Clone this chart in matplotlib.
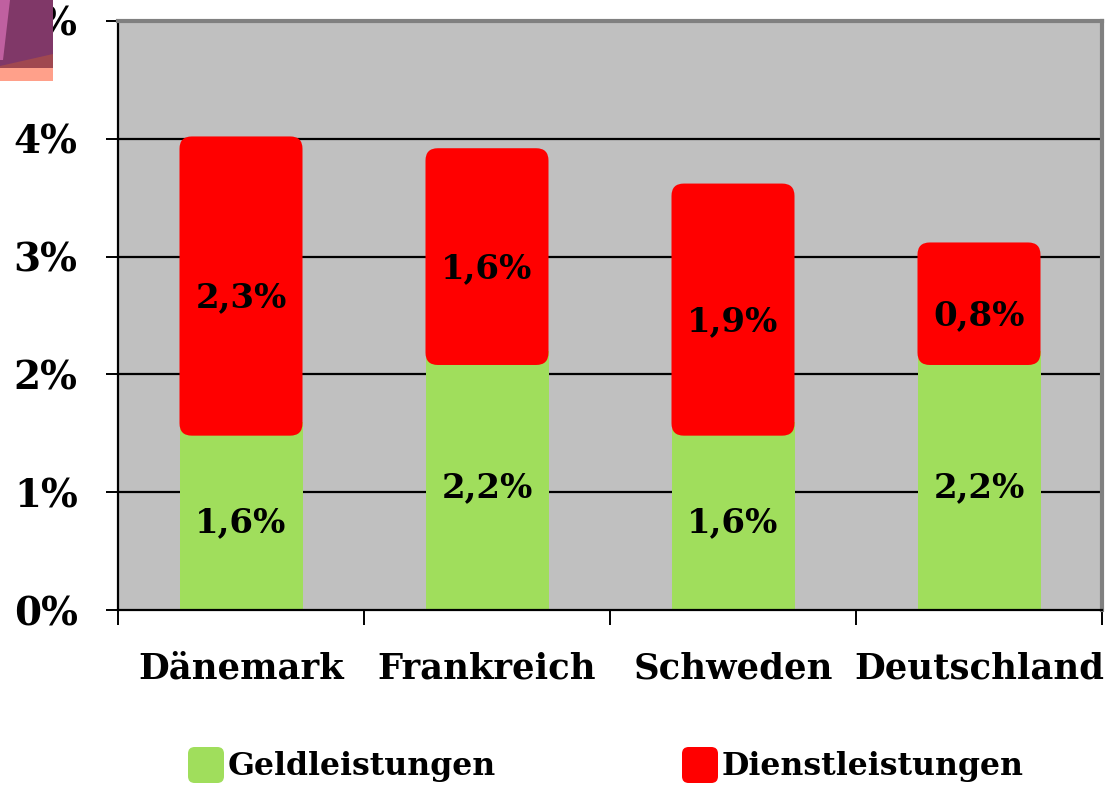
import matplotlib
matplotlib.use("Agg")
import matplotlib.pyplot as plt
from matplotlib.patches import FancyBboxPatch, Polygon, Rectangle
from matplotlib.ticker import FixedLocator, FuncFormatter
import numpy as np

categories = ["Dänemark", "Frankreich", "Schweden", "Deutschland"]
geld = [1.6, 2.2, 1.6, 2.2]
dienst = [2.3, 1.6, 1.9, 0.8]
geld_labels = ["1,6%", "2,2%", "1,6%", "2,2%"]
dienst_labels = ["2,3%", "1,6%", "1,9%", "0,8%"]
series_names = ["Geldleistungen", "Dienstleistungen"]
y_ticks = [0, 1, 2, 3, 4, 5]

GREEN = "#A0DE5C"
RED = "#FF0000"
FONT = "DejaVu Serif"

W, H = 1112, 789
fig = plt.figure(figsize=(W / 100, H / 100), dpi=100)
ax = fig.add_axes([118 / W, 1 - 610 / H, (1102 - 118) / W, (610 - 21) / H])
ax.set_facecolor("#C0C0C0")
ax.set_xlim(-0.5, len(categories) - 0.5)
ax.set_ylim(0, 5)

# gridlines
for t in y_ticks[1:-1]:
    ax.axhline(t, color="black", lw=1.6, zorder=1)

x = np.arange(len(categories))
width = 0.5
ax.bar(x, geld, width=width, color=GREEN, zorder=2)

# rounded red boxes (scaled to axes aspect)
px_per_x = (1102 - 118) / len(categories)
px_per_y = (610 - 21) / 5
aspect = px_per_x / px_per_y
pad = 0.12
for xi, g, d, lab_g, lab_d in zip(x, geld, dienst, geld_labels, dienst_labels):
    box = FancyBboxPatch((xi - width / 2, g - pad), width, d + 2 * pad,
                         boxstyle="round,pad=0,rounding_size=0.05",
                         mutation_aspect=aspect, facecolor=RED, edgecolor="none", zorder=3)
    ax.add_patch(box)
    ax.text(xi, g / 2 - 0.06, lab_g, ha="center", va="center", fontsize=24.5,
            fontweight="bold", family=FONT, zorder=4)
    ax.text(xi, g + d / 2 - 0.1, lab_d, ha="center", va="center", fontsize=24.5,
            fontweight="bold", family=FONT, zorder=4)

# spines
ax.spines["left"].set_color("black")
ax.spines["left"].set_linewidth(1.6)
ax.spines["bottom"].set_color("black")
ax.spines["bottom"].set_linewidth(1.6)
for s in ["top", "right"]:
    ax.spines[s].set_color("#808080")
    ax.spines[s].set_linewidth(3)

ax.set_yticks(y_ticks)
ax.yaxis.set_major_formatter(FuncFormatter(lambda v, p: f"{int(v)}%"))
ax.tick_params(axis="y", length=9, width=1.4, pad=20, labelsize=28, direction="out")
for lab in ax.get_yticklabels():
    lab.set_fontweight("bold")
    lab.set_family(FONT)

ax.set_xticks(x)
ax.set_xticklabels(categories)
ax.xaxis.set_minor_locator(FixedLocator(np.arange(-0.5, len(categories) - 0.4, 1.0)))
ax.tick_params(axis="x", which="major", length=0, pad=30, labelsize=25.5)
ax.tick_params(axis="x", which="minor", length=11, width=1.4, direction="out")
for lab in ax.get_xticklabels():
    lab.set_fontweight("bold")
    lab.set_family(FONT)

# legend (manual)
for (lx, color, name) in [(188, GREEN, series_names[0]), (682, RED, series_names[1])]:
    sq = FancyBboxPatch((lx / W, 1 - 783 / H), 36 / W, 36 / H,
                        boxstyle="round,pad=0,rounding_size=0.006",
                        transform=fig.transFigure, facecolor=color, edgecolor="none",
                        mutation_aspect=W / H)
    fig.add_artist(sq)
    fig.text((lx + 40) / W, 1 - 767 / H, name, ha="left", va="center", fontsize=22.7,
             fontweight="bold", family=FONT)

# decorative graphic fragment in the top-left corner
def fpts(pts):
    return [(px / W, 1 - py / H) for px, py in pts]

fig.add_artist(Rectangle((0, 1 - 81 / H), 53 / W, 13 / H, transform=fig.transFigure,
                         facecolor="#FFA08A", edgecolor="none", zorder=10))
fig.add_artist(Polygon(fpts([(0, 0), (53, 0), (53, 68), (0, 68)]), closed=True,
                       transform=fig.transFigure, facecolor="#803868", edgecolor="none", zorder=10))
fig.add_artist(Polygon(fpts([(0, 0), (10, 0), (3, 60), (0, 60)]), closed=True,
                       transform=fig.transFigure, facecolor="#C060A0", edgecolor="none", zorder=11))
fig.add_artist(Polygon(fpts([(53, 54), (53, 68), (0, 68), (0, 66)]), closed=True,
                       transform=fig.transFigure, facecolor="#A04850", edgecolor="none", zorder=11))

fig.savefig("out.png", dpi=100)
